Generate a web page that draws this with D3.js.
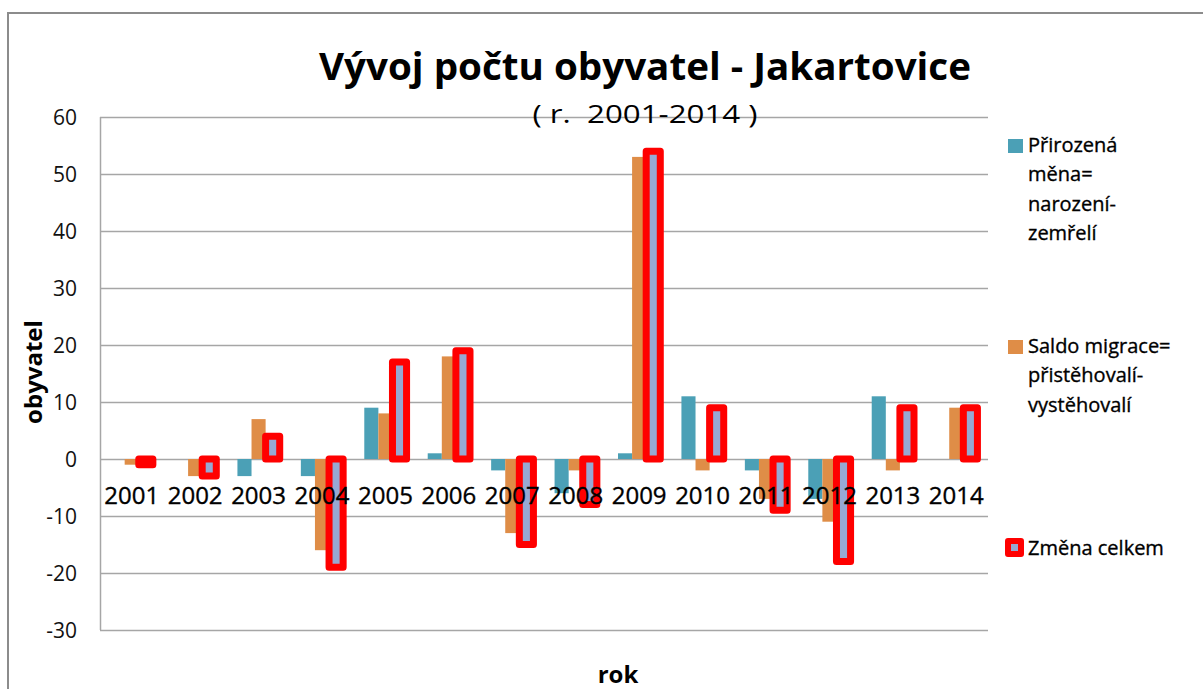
<!DOCTYPE html>
<html>
<head>
<meta charset="utf-8">
<script src="https://cdn.jsdelivr.net/npm/d3@7"></script>
<style>
  body { margin: 0; background: #fff; }
  svg { display: block; font-family: "Open Sans", sans-serif; }
  .grid line { stroke: #a6a6a6; stroke-width: 1.5; }
  .dark { fill: #000; stroke: #000; stroke-width: 0.35; }
</style>
</head>
<body>
<svg width="1203" height="689"></svg>
<script>
// data
const years = ["2001", "2002", "2003", "2004", "2005", "2006", "2007",
               "2008", "2009", "2010", "2011", "2012", "2013", "2014"];
const prirozena = [0, 0, -3, -3, 9, 1, -2, -6, 1, 11, -2, -7, 11, 0];
const migrace   = [-1, -3, 7, -16, 8, 18, -13, -2, 53, -2, -7, -11, -2, 9];
const celkem    = [-1, -3, 4, -19, 17, 19, -15, -8, 54, 9, -9, -18, 9, 9];
const yTicks = [-30, -20, -10, 0, 10, 20, 30, 40, 50, 60];
const seriesNames = ["prirozena", "migrace", "celkem"];

const svg = d3.select("svg");

// outer chart border
svg.append("rect")
    .attr("x", 8).attr("y", 13)
    .attr("width", 1210).attr("height", 700)
    .attr("fill", "none")
    .attr("stroke", "#8c8c8c")
    .attr("stroke-width", 2);

const plotL = 100, plotR = 988, plotT = 117, plotB = 630;

const x0 = d3.scaleBand().domain(years).range([plotL, plotR]).padding(0);
const step = x0.bandwidth();
const barW = step / 4.5;
const x1 = d3.scaleBand().domain(seriesNames)
    .range([barW * 0.75, step - barW * 0.75]).padding(0);
const y = d3.scaleLinear().domain([-30, 60]).range([plotB, plotT]);

// gridlines
let grid = svg.append("g").attr("class", "grid");
yTicks.map(t => {
    grid.append("line")
        .attr("x1", plotL).attr("x2", plotR)
        .attr("y1", Math.round(y(t)) + 0.5).attr("y2", Math.round(y(t)) + 0.5);
});
// left axis line
svg.append("line")
    .attr("x1", plotL + 0.5).attr("x2", plotL + 0.5)
    .attr("y1", plotT).attr("y2", plotB)
    .attr("stroke", "#a6a6a6").attr("stroke-width", 1.5);

// y tick labels
let yLabels = svg.append("g");
yTicks.map(t => {
    yLabels.append("text")
        .attr("x", 77)
        .attr("y", y(t) + 8)
        .attr("text-anchor", "end")
        .attr("font-size", 21)
        .attr("fill", "#111")
        .text(t);
});

// bars
let bars = svg.append("g");
years.map((yr, i) => {
    const gx = x0(yr);
    [prirozena[i], migrace[i]].map((v, k) => {
        bars.append("rect")
            .attr("x", gx + x1(seriesNames[k]))
            .attr("y", y(Math.max(0, v)))
            .attr("width", x1.bandwidth())
            .attr("height", Math.abs(y(v) - y(0)))
            .attr("fill", k === 0 ? "#4ba0b6" : "#df8d47");
    });
});
years.map((yr, i) => {
    const v = celkem[i];
    bars.append("rect")
        .attr("x", x0(yr) + x1("celkem"))
        .attr("y", y(Math.max(0, v)))
        .attr("width", x1.bandwidth())
        .attr("height", Math.abs(y(v) - y(0)))
        .attr("fill", "#97a9d3")
        .attr("stroke", "#ff0000")
        .attr("stroke-width", 7)
        .attr("stroke-linejoin", "round");
});

// category labels sit just below the zero line
let xLabels = svg.append("g");
years.map(yr => {
    xLabels.append("text")
        .attr("class", "dark")
        .attr("x", x0(yr) + step / 2)
        .attr("y", 504)
        .attr("text-anchor", "middle")
        .attr("font-size", 24)
        .text(yr);
});

// titles
svg.append("text")
    .attr("x", 645).attr("y", 80)
    .attr("text-anchor", "middle")
    .attr("font-size", 38).attr("font-weight", "bold")
    .attr("textLength", 652).attr("lengthAdjust", "spacingAndGlyphs")
    .text("Vývoj počtu obyvatel - Jakartovice");
svg.append("text")
    .attr("x", 645).attr("y", 123)
    .attr("text-anchor", "middle")
    .attr("font-size", 25)
    .attr("textLength", 225).attr("lengthAdjust", "spacingAndGlyphs")
    .attr("xml:space", "preserve")
    .text("( r.  2001-2014 )");
svg.append("text")
    .attr("transform", "translate(42,372) rotate(-90)")
    .attr("text-anchor", "middle")
    .attr("font-size", 24).attr("font-weight", "bold")
    .text("obyvatel");
svg.append("text")
    .attr("x", 618).attr("y", 683)
    .attr("text-anchor", "middle")
    .attr("font-size", 24).attr("font-weight", "bold")
    .text("rok");

// legend
const legendItems = [
    { lines: ["Přirozená", "měna=", "narození-", "zemřelí"], y: 152, color: "#4ba0b6" },
    { lines: ["Saldo migrace=", "přistěhovalí-", "vystěhovalí"], y: 353, color: "#df8d47" },
    { lines: ["Změna celkem"], y: 555, color: "#97a9d3", outline: true }
];
let legend = svg.append("g");
legendItems.map(it => {
    if (it.outline) {
        legend.append("rect")
            .attr("x", 1008).attr("y", it.y - 14)
            .attr("width", 13).attr("height", 13)
            .attr("fill", it.color)
            .attr("stroke", "#ff0000").attr("stroke-width", 6)
            .attr("stroke-linejoin", "round");
    } else {
        legend.append("rect")
            .attr("x", 1008).attr("y", it.y - 13)
            .attr("width", 15).attr("height", 14)
            .attr("fill", it.color);
    }
    it.lines.map((ln, j) => {
        legend.append("text")
            .attr("class", "dark")
            .attr("x", 1028)
            .attr("y", it.y + j * 29.3)
            .attr("font-size", 20)
            .attr("textLength", null)
            .text(ln);
    });
});
</script>
</body>
</html>
